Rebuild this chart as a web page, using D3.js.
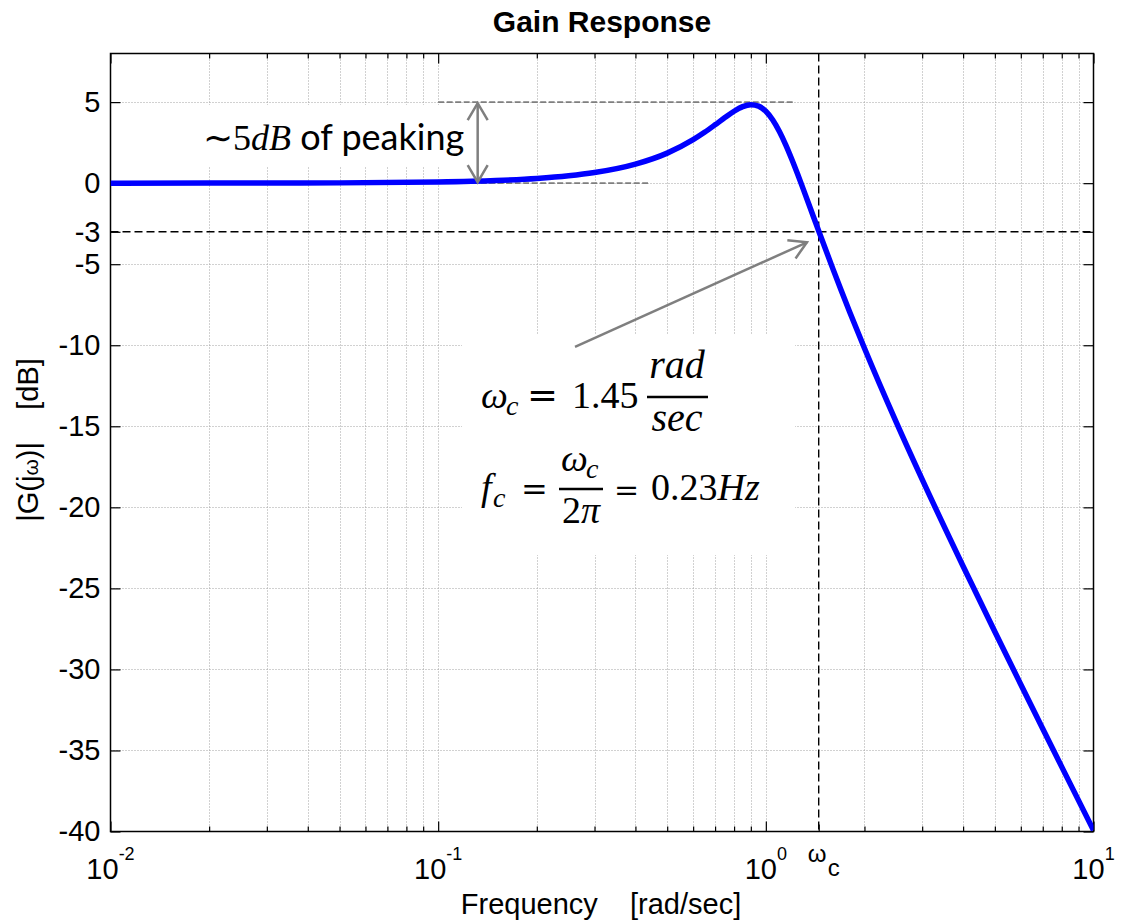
<!DOCTYPE html>
<html>
<head>
<meta charset="utf-8">
<script src="https://cdn.jsdelivr.net/npm/d3@7"></script>
<style>
  html, body { margin: 0; padding: 0; background: #fff; }
  svg { display: block; }
  text { white-space: pre; }
</style>
</head>
<body>
<svg id="chart" width="1124" height="922"></svg>
<script>
// Closed-loop gain response (magnitude in dB) against frequency in rad/sec
const freq = [0.01, 0.02, 0.03, 0.05, 0.1, 0.15, 0.2, 0.25, 0.3, 0.4,
              0.5, 0.6, 0.65, 0.7, 0.75, 0.8, 0.85, 0.9, 0.95, 1.0,
              1.05, 1.1, 1.15, 1.2, 1.25, 1.3, 1.4, 1.45, 1.6, 1.7,
              1.8, 2.0, 2.5, 3, 4, 5, 6, 7, 8, 10];
const gainDb = [0.00, 0.003, 0.006, 0.018, 0.071, 0.161, 0.287, 0.451, 0.653, 1.174,
                1.854, 2.683, 3.137, 3.600, 4.046, 4.437, 4.722, 4.845, 4.757, 4.437,
                3.900, 3.190, 2.365, 1.475, 0.561, -0.352, -2.114, -2.950, -5.257, -6.639,
                -7.913, -10.187, -14.744, -18.276, -23.632, -27.672, -30.927, -33.658, -36.012, -39.929];

const yTicks = [5, 0, -3, -5, -10, -15, -20, -25, -30, -35, -40];
const xMajor = [0.01, 0.1, 1, 10];
const xExponents = ["-2", "-1", "0", "1"];

const omegaC = 1.45;     // cutoff frequency, rad/sec
const cutoffDb = -3;
const peakDb = 5;

const svg = d3.select("#chart");
const X0 = 110.5, X1 = 1093.5, Y0 = 53.5, Y1 = 831.5;

const x = d3.scaleLog().domain([0.01, 10]).range([X0, X1]);
const y = d3.scaleLinear().domain([-40, 8]).range([Y1, Y0]);

const sans = "'Liberation Sans', Arial, Helvetica, sans-serif";
const serif = "'Liberation Serif', 'Times New Roman', serif";
const opSerif = "'DejaVu Serif', serif";

// ---- grid ----
const grid = svg.append("g").attr("stroke", "#a3a3a3").attr("stroke-width", 1)
  .attr("stroke-dasharray", "1,2");
const allX = x.ticks().filter(v => v > 0.0100001 && v < 9.9999);
grid.selectAll("line.v").data(allX).join("line")
  .attr("x1", d => Math.round(x(d)) + 0.5).attr("x2", d => Math.round(x(d)) + 0.5)
  .attr("y1", Y0).attr("y2", Y1);
grid.selectAll("line.h").data(yTicks.filter(v => v !== cutoffDb && v !== -40)).join("line")
  .attr("y1", d => Math.round(y(d)) + 0.5).attr("y2", d => Math.round(y(d)) + 0.5)
  .attr("x1", X0).attr("x2", X1);

// ---- white boxes behind the annotations ----
svg.append("rect").attr("x", 192).attr("y", 105).attr("width", 278).attr("height", 62).attr("fill", "#fff");
svg.append("rect").attr("x", 462).attr("y", 335).attr("width", 333).attr("height", 220).attr("fill", "#fff");

// ---- axes with inward ticks ----
function styleAxis(g) {
  g.select(".domain").remove();
  g.selectAll(".tick line").attr("stroke", "#000").attr("stroke-width", 1.2);
}
svg.append("g").attr("transform", `translate(${X0},0)`)
  .call(d3.axisLeft(y).tickValues(yTicks).tickSizeInner(-10).tickSizeOuter(0).tickPadding(10)
    .tickFormat(d => String(d)))
  .call(styleAxis)
  .call(g => g.selectAll("text").attr("font-family", sans).attr("font-size", 29).attr("fill", "#000"));
svg.append("g").attr("transform", `translate(${X1},0)`)
  .call(d3.axisRight(y).tickValues(yTicks).tickSizeInner(-10).tickSizeOuter(0).tickFormat(""))
  .call(styleAxis);

const minorX = x.ticks().filter(v => !xMajor.includes(v));
[[Y1, d3.axisBottom], [Y0, d3.axisTop]].forEach(([pos, ax]) => {
  svg.append("g").attr("transform", `translate(0,${pos})`)
    .call(ax(x).tickValues(xMajor).tickSizeInner(-10).tickSizeOuter(0).tickFormat(""))
    .call(styleAxis);
  svg.append("g").attr("transform", `translate(0,${pos})`)
    .call(ax(x).tickValues(minorX).tickSizeInner(-5).tickSizeOuter(0).tickFormat(""))
    .call(styleAxis);
});
svg.append("g").attr("transform", `translate(0,${Y1})`)
  .call(d3.axisBottom(x).tickValues([omegaC]).tickSizeInner(-7).tickSizeOuter(0).tickFormat(""))
  .call(styleAxis);

// decade labels 10^n
const xl = svg.append("g").attr("font-family", sans).attr("fill", "#000");
xMajor.forEach((v, i) => {
  const t = xl.append("text").attr("x", x(v)).attr("y", 879).attr("text-anchor", "middle");
  t.append("tspan").attr("font-size", 29).text("10");
  t.append("tspan").attr("font-size", 18).attr("dy", -19).text(xExponents[i]);
});
// omega_c label under the axis
xl.append("text").attr("x", x(omegaC) - 11).attr("y", 862).attr("font-size", 24).text("ω");
xl.append("text").attr("x", x(omegaC) + 9).attr("y", 876).attr("font-size", 24).text("c");

// ---- reference lines at -3 dB and omega_c ----
svg.append("line").attr("x1", X0).attr("x2", X1).attr("y1", y(cutoffDb)).attr("y2", y(cutoffDb))
  .attr("stroke", "#000").attr("stroke-width", 1.4).attr("stroke-dasharray", "8,4");
svg.append("line").attr("x1", x(omegaC)).attr("x2", x(omegaC)).attr("y1", Y0).attr("y2", Y1)
  .attr("stroke", "#000").attr("stroke-width", 1.4).attr("stroke-dasharray", "8,4");

// ---- peaking guide lines ----
const gray = "#7f7f7f";
svg.append("line").attr("x1", x(0.1)).attr("x2", x(1.21)).attr("y1", y(peakDb)).attr("y2", y(peakDb))
  .attr("stroke", gray).attr("stroke-width", 1.8).attr("stroke-dasharray", "6,2.5");
svg.append("line").attr("x1", x(0.1)).attr("x2", x(0.437)).attr("y1", y(0)).attr("y2", y(0))
  .attr("stroke", gray).attr("stroke-width", 1.8).attr("stroke-dasharray", "6,2.5");

// ---- frame ----
svg.append("rect").attr("x", X0).attr("y", Y0).attr("width", X1 - X0).attr("height", Y1 - Y0)
  .attr("fill", "none").attr("stroke", "#000").attr("stroke-width", 1.5);

// ---- gain curve ----
const clip = svg.append("clipPath").attr("id", "plotClip");
clip.append("rect").attr("x", X0).attr("y", Y0 - 4).attr("width", X1 - X0).attr("height", Y1 - Y0 + 4);
const line = d3.line().x(d => x(d[0])).y(d => y(d[1])).curve(d3.curveMonotoneX);
svg.append("path").datum(d3.zip(freq, gainDb))
  .attr("clip-path", "url(#plotClip)")
  .attr("d", line).attr("fill", "none").attr("stroke", "#0000ff")
  .attr("stroke-width", 5.5).attr("stroke-linejoin", "round");

// ---- arrows ----
const defs = svg.append("defs");
defs.append("marker").attr("id", "vhead").attr("markerUnits", "userSpaceOnUse")
  .attr("viewBox", "-20 -12 24 24").attr("markerWidth", 24).attr("markerHeight", 24)
  .attr("refX", 0).attr("refY", 0).attr("orient", "auto-start-reverse")
  .append("path").attr("d", "M-17,-10 L0,0 L-17,10").attr("fill", "none")
  .attr("stroke", gray).attr("stroke-width", 2.5).attr("stroke-linejoin", "miter");

svg.append("line").attr("x1", x(0.132)).attr("x2", x(0.132)).attr("y1", y(peakDb) + 1).attr("y2", y(0) - 1)
  .attr("stroke", gray).attr("stroke-width", 2.5)
  .attr("marker-start", "url(#vhead)").attr("marker-end", "url(#vhead)");
svg.append("line").attr("x1", x(0.2616)).attr("y1", y(-10.1)).attr("x2", x(1.335)).attr("y2", y(-3.65))
  .attr("stroke", gray).attr("stroke-width", 2.5).attr("marker-end", "url(#vhead)");

// ---- annotation text ----
const ann = svg.append("g").attr("fill", "#000");
const pk = ann.append("text").attr("x", 203).attr("y", 150).attr("font-size", 36);
pk.append("tspan").attr("font-family", serif).text("∼5");
pk.append("tspan").attr("font-family", serif).attr("font-style", "italic").text("dB");
pk.append("tspan").attr("font-family", "Lato, 'Open Sans', sans-serif").attr("font-size", 36).text(" of peaking");

// omega_c = 1.45 rad/sec
const m = ann.append("g").attr("font-family", serif);
m.append("text").attr("x", 481).attr("y", 408).attr("font-size", 38).attr("font-style", "italic").text("ω");
m.append("text").attr("x", 506).attr("y", 415).attr("font-size", 28).attr("font-style", "italic").text("c");
m.append("text").attr("x", 527).attr("y", 408).attr("font-size", 37).attr("font-family", opSerif).text("=");
m.append("text").attr("x", 572).attr("y", 408).attr("font-size", 38).text("1.45");
m.append("line").attr("x1", 647).attr("x2", 708).attr("y1", 397).attr("y2", 397).attr("stroke", "#000").attr("stroke-width", 2.6);
m.append("text").attr("x", 677).attr("y", 378).attr("font-size", 40).attr("font-style", "italic").attr("text-anchor", "middle").text("rad");
m.append("text").attr("x", 677).attr("y", 431).attr("font-size", 40).attr("font-style", "italic").attr("text-anchor", "middle").text("sec");

// f_c = omega_c / 2pi = 0.23Hz
m.append("text").attr("x", 481).attr("y", 500).attr("font-size", 38).attr("font-style", "italic").text("f");
m.append("text").attr("x", 493).attr("y", 507).attr("font-size", 28).attr("font-style", "italic").text("c");
m.append("text").attr("x", 521).attr("y", 500).attr("font-size", 32).attr("font-family", opSerif).text("=");
m.append("line").attr("x1", 559).attr("x2", 603).attr("y1", 489).attr("y2", 489).attr("stroke", "#000").attr("stroke-width", 2.6);
m.append("text").attr("x", 561).attr("y", 471).attr("font-size", 38).attr("font-style", "italic").text("ω");
m.append("text").attr("x", 586).attr("y", 478).attr("font-size", 28).attr("font-style", "italic").text("c");
const tp = m.append("text").attr("x", 581).attr("y", 523).attr("font-size", 38).attr("text-anchor", "middle");
tp.append("tspan").text("2");
tp.append("tspan").attr("font-style", "italic").text("π");
m.append("text").attr("x", 614).attr("y", 500).attr("font-size", 30).attr("font-family", opSerif).text("=");
const hz = m.append("text").attr("x", 651).attr("y", 500).attr("font-size", 38);
hz.append("tspan").text("0.23");
hz.append("tspan").attr("font-style", "italic").text("Hz");

// ---- titles ----
svg.append("text").attr("x", (X0 + X1) / 2).attr("y", 32).attr("text-anchor", "middle")
  .attr("font-family", sans).attr("font-weight", "bold").attr("font-size", 30).text("Gain Response");
svg.append("text").attr("x", 601).attr("y", 914).attr("text-anchor", "middle")
  .attr("font-family", sans).attr("font-size", 29).text("Frequency    [rad/sec]");
const yl = svg.append("text").attr("transform", "translate(38,440) rotate(-90)").attr("text-anchor", "middle")
  .attr("font-family", sans).attr("font-size", 29);
yl.append("tspan").text("|G(j");
yl.append("tspan").attr("font-size", 21).text("ω");
yl.append("tspan").text(")|    [dB]");
</script>
</body>
</html>
